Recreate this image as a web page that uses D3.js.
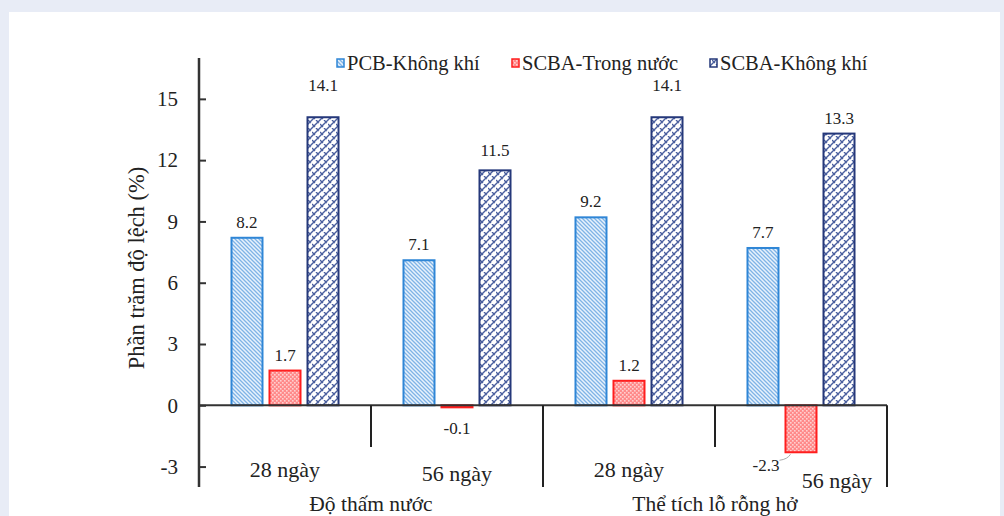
<!DOCTYPE html>
<html><head><meta charset="utf-8">
<script src="https://cdn.jsdelivr.net/npm/d3@7/dist/d3.min.js"></script>
<style>
html,body{margin:0;padding:0;background:#e8ecf6;}
text{font-family:"Liberation Serif","Times New Roman",Times,serif !important;}
</style></head>
<body><svg id="c" width="1004" height="516" style="display:block"></svg>
<script>
const groups = ["Độ thấm nước", "Thể tích lỗ rỗng hở"];
const categories = ["28 ngày", "56 ngày", "28 ngày", "56 ngày"];
const series = ["PCB-Không khí", "SCBA-Trong nước", "SCBA-Không khí"];
const pcbAir = [8.2, 7.1, 9.2, 7.7];
const scbaWater = [1.7, -0.1, 1.2, -2.3];
const scbaAir = [14.1, 11.5, 14.1, 13.3];
const yTicks = [-3, 0, 3, 6, 9, 12, 15];

const values = [pcbAir, scbaWater, scbaAir];
const svg = d3.select("#c");
svg.append("rect").attr("x",9).attr("y",12).attr("width",991).attr("height",504).attr("fill","#fff");

const defs = svg.append("defs");
const p1 = defs.append("pattern").attr("id","pPCB").attr("patternUnits","userSpaceOnUse").attr("width",4).attr("height",4);
p1.append("rect").attr("width",4).attr("height",4).attr("fill","#e8f2fc");
p1.append("path").attr("d","M-1,-1 L5,5 M-1,3 L1,5 M3,-1 L5,1").attr("stroke","#7fb3e6").attr("stroke-width",1.3);
const p2 = defs.append("pattern").attr("id","pRed").attr("patternUnits","userSpaceOnUse").attr("width",4).attr("height",4);
p2.append("rect").attr("width",4).attr("height",4).attr("fill","#ff8a8a");
p2.append("rect").attr("x",0).attr("y",0).attr("width",1.6).attr("height",1.6).attr("fill","#ffd0d0");
p2.append("rect").attr("x",2).attr("y",2).attr("width",1.6).attr("height",1.6).attr("fill","#ffd0d0");
const p3 = defs.append("pattern").attr("id","pNavy").attr("patternUnits","userSpaceOnUse").attr("width",8).attr("height",8);
p3.append("rect").attr("width",8).attr("height",8).attr("fill","#ffffff");
p3.append("path").attr("d","M0,8 L8,0 M-2,2 L2,-2 M6,10 L10,6 M0,4 L3,7 M4,0 L7,3").attr("stroke","#4a5f9e").attr("stroke-width",1.4).attr("fill","none");

const fills = ["url(#pPCB)","url(#pRed)","url(#pNavy)"];
const strokes = ["#2f86d6","#ff1e1e","#25387a"];

const y = d3.scaleLinear().domain([-4,17]).range([487,58]);
const x0 = d3.scaleBand().domain(d3.range(categories.length)).range([199,887]);
const x1 = d3.scaleBand().domain(d3.range(series.length)).range([0,x0.bandwidth()]).paddingInner(7/38).paddingOuter(0.855);

const g = svg.append("g");
values.forEach((vals,si)=>{
  vals.forEach((v,ci)=>{
    const bx = x0(ci)+x1(si);
    g.append("rect").attr("x",bx).attr("y",y(Math.max(0,v))).attr("width",x1.bandwidth())
      .attr("height",Math.abs(y(v)-y(0))).attr("fill",fills[si]).attr("stroke",strokes[si]).attr("stroke-width",2);
  });
});

const yAxis = d3.axisLeft(y).tickValues(yTicks).tickSize(-7).tickPadding(21).tickFormat(d=>String(d));
const ya = svg.append("g").attr("transform","translate(199,0)").call(yAxis);
ya.select(".domain").remove();
ya.selectAll(".tick line").attr("stroke","#333").attr("stroke-width",2);
ya.selectAll(".tick text").attr("font-size",21).attr("fill","#222");
svg.append("line").attr("x1",199).attr("x2",199).attr("y1",58).attr("y2",487).attr("stroke","#333").attr("stroke-width",2.5);
svg.append("line").attr("x1",199).attr("x2",887).attr("y1",y(0)).attr("y2",y(0)).attr("stroke","#333").attr("stroke-width",2);
categories.forEach((c,ci)=>{
  const xe = x0(ci)+x0.bandwidth();
  const long = ci%2===1;
  svg.append("line").attr("x1",xe).attr("x2",xe).attr("y1",y(0)).attr("y2",long?487:447).attr("stroke","#222").attr("stroke-width",2);
});

const labelShift = {"0-2":-16,"2-2":-16,"1-2":-4};
values.forEach((vals,si)=>{
  vals.forEach((v,ci)=>{
    const cx = x0(ci)+x1(si)+x1.bandwidth()/2;
    const t = svg.append("text").attr("font-size",17).attr("fill","#222").attr("text-anchor","middle").text(v.toFixed(1));
    if (v>=0) {
      t.attr("x",cx).attr("y",y(v)-10+(labelShift[ci+"-"+si]||0));
    } else if (v>-1) {
      t.attr("x",cx).attr("y",y(v)+27);
    } else {
      t.attr("x",cx-35).attr("y",y(v)+19);
      const bx = x0(ci)+x1(si);
      svg.append("path").attr("d",`M${bx-6},${y(v)+8} Q${bx+2},${y(v)+7} ${bx+5},${y(v)+2}`).attr("fill","none").attr("stroke","#aaa").attr("stroke-width",1);
    }
  });
});

const catDy = [470, 474, 470, 481];
const catDx = [0, 0, 0, 36];
categories.forEach((c,ci)=>{
  svg.append("text").attr("x",x0(ci)+x0.bandwidth()/2+catDx[ci]).attr("y",catDy[ci]+7).attr("font-size",22).attr("fill","#222").attr("text-anchor","middle").text(c);
});
groups.forEach((gn,gi)=>{
  const cx = (x0(gi*2)+x0(gi*2+1)+x0.bandwidth())/2;
  svg.append("text").attr("x",cx).attr("y",511).attr("font-size",21.5).attr("fill","#222").attr("text-anchor","middle").text(gn);
});

svg.append("text").attr("transform","translate(144,268) rotate(-90)").attr("font-size",22.5).attr("fill","#222").attr("text-anchor","middle").text("Phần trăm độ lệch (%)");

const legX = [337, 512, 710];
series.forEach((s,si)=>{
  svg.append("rect").attr("x",legX[si]).attr("y",59).attr("width",7).attr("height",8).attr("fill",fills[si]).attr("stroke",strokes[si]).attr("stroke-width",1.5);
  svg.append("text").attr("x",legX[si]+10).attr("y",70).attr("font-size",20.5).attr("fill","#222").text(s);
});
</script></body></html>
